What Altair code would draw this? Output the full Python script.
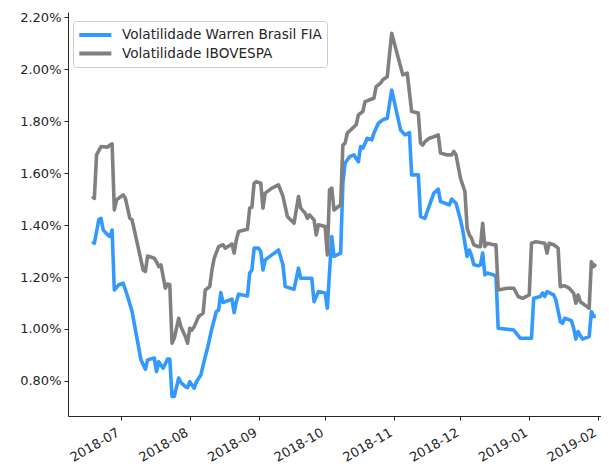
import altair as alt
import pandas as pd

warren_label = "Volatilidade Warren Brasil FIA"
ibov_label = "Volatilidade IBOVESPA"

warren_dates = [
    "2018-06-18", "2018-06-19", "2018-06-21", "2018-06-22", "2018-06-23", "2018-06-25", "2018-06-26",
    "2018-06-27", "2018-06-28", "2018-06-30", "2018-07-02", "2018-07-04", "2018-07-06", "2018-07-10",
    "2018-07-12", "2018-07-13", "2018-07-16", "2018-07-17", "2018-07-18", "2018-07-20", "2018-07-22",
    "2018-07-23", "2018-07-24", "2018-07-25", "2018-07-27", "2018-07-28", "2018-07-30", "2018-07-31",
    "2018-08-01", "2018-08-03", "2018-08-04", "2018-08-06", "2018-08-08", "2018-08-09", "2018-08-11",
    "2018-08-13", "2018-08-14", "2018-08-15", "2018-08-16", "2018-08-20", "2018-08-21", "2018-08-22",
    "2018-08-23", "2018-08-27", "2018-08-28", "2018-08-29", "2018-08-30", "2018-09-01", "2018-09-02",
    "2018-09-03", "2018-09-04", "2018-09-07", "2018-09-10", "2018-09-12", "2018-09-13", "2018-09-17",
    "2018-09-19", "2018-09-20", "2018-09-23", "2018-09-25", "2018-09-26", "2018-09-28", "2018-10-01",
    "2018-10-02", "2018-10-03", "2018-10-04", "2018-10-05", "2018-10-08", "2018-10-09", "2018-10-10",
    "2018-10-12", "2018-10-14", "2018-10-16", "2018-10-17", "2018-10-18", "2018-10-20", "2018-10-22",
    "2018-10-23", "2018-10-25", "2018-10-27", "2018-10-29", "2018-10-31", "2018-11-04", "2018-11-06",
    "2018-11-08", "2018-11-09", "2018-11-12", "2018-11-13", "2018-11-15", "2018-11-16", "2018-11-19",
    "2018-11-21", "2018-11-22", "2018-11-25", "2018-11-26", "2018-11-27", "2018-11-29", "2018-12-01",
    "2018-12-02", "2018-12-04", "2018-12-05", "2018-12-06", "2018-12-07", "2018-12-09", "2018-12-10",
    "2018-12-11", "2018-12-12", "2018-12-13", "2018-12-16", "2018-12-17", "2018-12-18", "2018-12-25",
    "2018-12-28", "2019-01-02", "2019-01-03", "2019-01-06", "2019-01-07", "2019-01-08", "2019-01-09",
    "2019-01-12", "2019-01-13", "2019-01-15", "2019-01-16", "2019-01-17", "2019-01-20", "2019-01-21",
    "2019-01-22", "2019-01-23", "2019-01-25", "2019-01-28", "2019-01-29", "2019-01-30", "2019-01-31",
]
warren_values = [
    1.336, 1.330, 1.420, 1.426, 1.381, 1.362, 1.356,
    1.381, 1.150, 1.170, 1.176, 1.125, 1.067, 0.881,
    0.845, 0.881, 0.888, 0.836, 0.874, 0.849, 0.884,
    0.884, 0.740, 0.740, 0.811, 0.794, 0.778, 0.774,
    0.797, 0.772, 0.797, 0.823, 0.894, 0.926, 1.003,
    1.067, 1.073, 1.140, 1.102, 1.115, 1.063, 1.105,
    1.134, 1.127, 1.215, 1.227, 1.311, 1.311, 1.298,
    1.227, 1.266, 1.285, 1.304, 1.247, 1.163, 1.153,
    1.234, 1.195, 1.195, 1.195, 1.105, 1.144, 1.138,
    1.080, 1.221, 1.356, 1.279, 1.292, 1.561, 1.638,
    1.663, 1.670, 1.644, 1.702, 1.696, 1.734, 1.728,
    1.754, 1.792, 1.805, 1.811, 1.920, 1.766, 1.747,
    1.756, 1.593, 1.593, 1.433, 1.426, 1.452, 1.523,
    1.538, 1.490, 1.481, 1.478, 1.500, 1.484, 1.420,
    1.381, 1.279, 1.304, 1.281, 1.247, 1.243, 1.247,
    1.292, 1.208, 1.215, 1.208, 1.202, 1.003, 0.996,
    0.964, 0.964, 1.118, 1.125, 1.138, 1.125, 1.144,
    1.131, 1.112, 1.028, 1.022, 1.041, 1.032, 1.003,
    0.961, 0.990, 0.961, 0.971, 1.067, 1.048, 1.050,
]

ibov_dates = [
    "2018-06-18", "2018-06-19", "2018-06-20", "2018-06-22", "2018-06-25", "2018-06-26", "2018-06-27",
    "2018-06-28", "2018-06-29", "2018-07-02", "2018-07-03", "2018-07-05", "2018-07-06", "2018-07-09",
    "2018-07-11", "2018-07-12", "2018-07-13", "2018-07-16", "2018-07-17", "2018-07-18", "2018-07-19",
    "2018-07-20", "2018-07-21", "2018-07-22", "2018-07-23", "2018-07-24", "2018-07-25", "2018-07-27",
    "2018-07-28", "2018-07-30", "2018-07-31", "2018-08-01", "2018-08-02", "2018-08-03", "2018-08-05",
    "2018-08-07", "2018-08-08", "2018-08-10", "2018-08-11", "2018-08-12", "2018-08-14", "2018-08-16",
    "2018-08-17", "2018-08-20", "2018-08-21", "2018-08-22", "2018-08-23", "2018-08-27", "2018-08-28",
    "2018-08-29", "2018-08-30", "2018-08-31", "2018-09-02", "2018-09-03", "2018-09-04", "2018-09-07",
    "2018-09-10", "2018-09-12", "2018-09-14", "2018-09-17", "2018-09-19", "2018-09-20", "2018-09-22",
    "2018-09-23", "2018-09-24", "2018-09-26", "2018-09-27", "2018-09-28", "2018-10-01", "2018-10-02",
    "2018-10-03", "2018-10-04", "2018-10-05", "2018-10-08", "2018-10-09", "2018-10-10", "2018-10-11",
    "2018-10-15", "2018-10-16", "2018-10-18", "2018-10-19", "2018-10-21", "2018-10-23", "2018-10-24",
    "2018-10-26", "2018-10-27", "2018-10-29", "2018-10-31", "2018-11-05", "2018-11-07", "2018-11-09",
    "2018-11-12", "2018-11-13", "2018-11-14", "2018-11-15", "2018-11-16", "2018-11-17", "2018-11-19",
    "2018-11-21", "2018-11-22", "2018-11-25", "2018-11-27", "2018-11-28", "2018-11-29", "2018-12-01",
    "2018-12-03", "2018-12-04", "2018-12-05", "2018-12-06", "2018-12-07", "2018-12-09", "2018-12-10",
    "2018-12-11", "2018-12-12", "2018-12-13", "2018-12-16", "2018-12-17", "2018-12-18", "2018-12-22",
    "2018-12-25", "2018-12-27", "2018-12-29", "2019-01-01", "2019-01-02", "2019-01-04", "2019-01-08",
    "2019-01-09", "2019-01-10", "2019-01-12", "2019-01-14", "2019-01-15", "2019-01-17", "2019-01-19",
    "2019-01-21", "2019-01-22", "2019-01-23", "2019-01-24", "2019-01-27", "2019-01-28", "2019-01-29",
    "2019-01-30", "2019-01-31",
]
ibov_values = [
    1.510, 1.503, 1.670, 1.702, 1.700, 1.708, 1.712,
    1.458, 1.497, 1.516, 1.503, 1.426, 1.420, 1.304,
    1.227, 1.221, 1.281, 1.272, 1.259, 1.240, 1.247,
    1.202, 1.157, 1.173, 1.170, 0.945, 0.964, 1.041,
    1.009, 0.971, 0.945, 1.003, 0.996, 1.009, 1.048,
    1.061, 1.150, 1.163, 1.227, 1.272, 1.317, 1.324,
    1.311, 1.327, 1.292, 1.343, 1.375, 1.384, 1.465,
    1.469, 1.561, 1.567, 1.561, 1.465, 1.523, 1.542,
    1.555, 1.510, 1.433, 1.407, 1.510, 1.465, 1.446,
    1.426, 1.439, 1.420, 1.362, 1.401, 1.394, 1.285,
    1.535, 1.542, 1.458, 1.478, 1.708, 1.715, 1.754,
    1.786, 1.824, 1.837, 1.875, 1.882, 1.888, 1.933,
    1.946, 1.959, 1.971, 2.138, 1.978, 1.985, 1.837,
    1.831, 1.715, 1.708, 1.721, 1.728, 1.734, 1.740,
    1.747, 1.677, 1.670, 1.670, 1.683, 1.670, 1.580,
    1.529, 1.388, 1.362, 1.349, 1.324, 1.317, 1.317,
    1.407, 1.317, 1.330, 1.324, 1.324, 1.150, 1.157,
    1.157, 1.125, 1.118, 1.131, 1.330, 1.336, 1.330,
    1.292, 1.330, 1.324, 1.311, 1.163, 1.166, 1.157,
    1.138, 1.099, 1.131, 1.105, 1.086, 1.080, 1.259,
    1.240, 1.250,
]

y_ticks = [0.80, 1.00, 1.20, 1.40, 1.60, 1.80, 2.00, 2.20]
x_tick_months = [(2018, 7), (2018, 8), (2018, 9), (2018, 10), (2018, 11), (2018, 12), (2019, 1), (2019, 2)]

df = pd.concat([
    pd.DataFrame({"date": pd.to_datetime(warren_dates), "vol": warren_values, "serie": warren_label, "ordem": 0}),
    pd.DataFrame({"date": pd.to_datetime(ibov_dates), "vol": ibov_values, "serie": ibov_label, "ordem": 1}),
])

font = "DejaVu Sans"
ink = "#262626"

chart = alt.Chart(df).mark_line(strokeWidth=3.6, strokeJoin="round", strokeCap="butt").encode(
    x=alt.X(
        "date:T",
        scale=alt.Scale(
            domain=[
                alt.DateTime(year=2018, month=6, date=7, hours=3),
                alt.DateTime(year=2019, month=2, date=2, hours=8),
            ],
            nice=False,
        ),
        axis=alt.Axis(
            title=None,
            values=[alt.DateTime(year=y, month=m, date=1) for y, m in x_tick_months],
            format="%Y-%m",
            labelAngle=-30,
            labelAlign="right",
            labelBaseline="top",
            labelPadding=6,
            labelOffset=-6,
        ),
    ),
    y=alt.Y(
        "vol:Q",
        scale=alt.Scale(domain=[0.665, 2.22], nice=False, zero=False),
        axis=alt.Axis(
            title=None,
            values=y_ticks,
            labelExpr="format(datum.value, '.2f') + '%'",
            labelPadding=3,
        ),
    ),
    color=alt.Color(
        "serie:N",
        scale=alt.Scale(domain=[warren_label, ibov_label], range=["#3399ff", "#808080"]),
        legend=alt.Legend(
            title=None,
            orient="none",
            legendX=5,
            legendY=9,
            symbolType="M-1.15,0H3.63",
            symbolStrokeWidth=4,
            symbolSize=180,
            labelFont=font,
            labelFontSize=13.6,
            labelColor=ink,
            labelOffset=26,
            labelLimit=400,
            padding=5,
            rowPadding=1.5,
            strokeColor="#cccccc",
            fillColor="white",
            cornerRadius=3,
        ),
    ),
    order=alt.Order("ordem:Q"),
).properties(
    width=533,
    height=404,
    autosize=alt.AutoSizeParams(type="none"),
    padding={"left": 60, "top": 4, "right": 0, "bottom": 48},
).configure_view(
    stroke=None
).configure_axis(
    grid=False,
    domainColor=ink,
    tickColor=ink,
    tickSize=4,
    labelFont=font,
    labelFontSize=13,
    labelColor=ink,
)

chart.save("out.html", embed_options={"renderer": "svg", "actions": False})
